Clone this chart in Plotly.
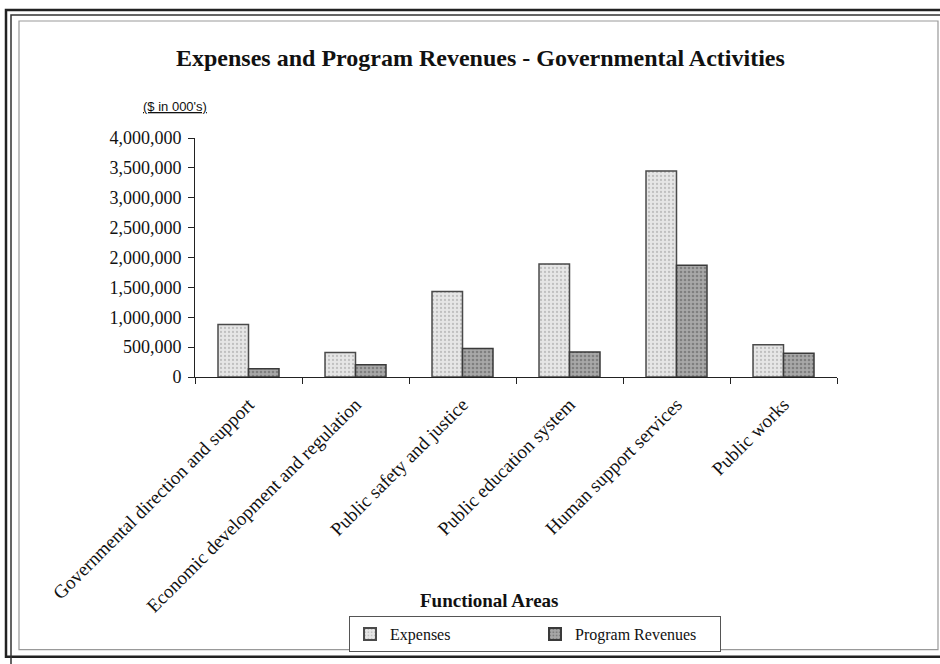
import plotly.graph_objects as go

categories = [
    "Governmental direction and support",
    "Economic development and regulation",
    "Public safety and justice",
    "Public education system",
    "Human support services",
    "Public works",
]
expenses = [877000, 409000, 1429000, 1893000, 3449000, 541000]
program_revenues = [137000, 204000, 475000, 419000, 1871000, 397000]
y_ticks = [0, 500000, 1000000, 1500000, 2000000, 2500000, 3000000, 3500000, 4000000]
y_tick_labels = [f"{v:,}" for v in y_ticks]

W, H = 940, 664
L, R, T, B = 195, 837, 138, 379

def px(x):
    return (x - L) / (R - L)

def py(y):
    return (B - y) / (B - T)

serif = "Liberation Serif, Times New Roman, serif"

fig = go.Figure()
fig.add_trace(go.Bar(
    x=categories, y=expenses, name="Expenses",
    marker=dict(color="#e4e4e4",
                line=dict(color="#4a4a4a", width=1.5),
                pattern=dict(shape=".", fgcolor="#9a9a9a", bgcolor="#e6e6e6", size=4, solidity=0.25)),
))
fig.add_trace(go.Bar(
    x=categories, y=program_revenues, name="Program Revenues",
    marker=dict(color="#9a9a9a",
                line=dict(color="#3a3a3a", width=1.5),
                pattern=dict(shape=".", fgcolor="#555555", bgcolor="#a8a8a8", size=4, solidity=0.35)),
))

shapes = [
    dict(type="rect", xref="paper", yref="paper", x0=px(6), x1=px(945), y0=py(661), y1=py(9),
         line=dict(color="#222", width=2.5)),
    dict(type="rect", xref="paper", yref="paper", x0=px(11), x1=px(945), y0=py(945), y1=py(14),
         line=dict(color="#333", width=1.5)),
    dict(type="rect", xref="paper", yref="paper", x0=px(19), x1=px(938), y0=py(654), y1=py(20),
         line=dict(color="#999", width=1.2)),
]

annotations = [
    dict(text="<b>Expenses and Program Revenues - Governmental Activities</b>",
         xref="paper", yref="paper", x=px(480), y=py(57), xanchor="center", yanchor="middle",
         showarrow=False, font=dict(family=serif, size=24, color="#111")),
    dict(text="<u>($ in 000's)</u>",
         xref="paper", yref="paper", x=px(175), y=py(106), xanchor="center", yanchor="middle",
         showarrow=False, font=dict(family="Liberation Sans, Arial, sans-serif", size=13, color="#111")),
    dict(text="<b>Functional Areas</b>",
         xref="paper", yref="paper", x=px(489), y=py(604), xanchor="center", yanchor="middle",
         showarrow=False, font=dict(family=serif, size=19, color="#111")),
]

fig.update_layout(
    width=W, height=H,
    margin=dict(l=L, r=W - R, t=T, b=H - B, pad=0),
    paper_bgcolor="white", plot_bgcolor="white",
    barmode="group", bargap=0.43, bargroupgap=0,
    showlegend=True,
    legend=dict(orientation="h", x=px(535), y=py(620), xanchor="center", yanchor="top",
                bordercolor="#555", borderwidth=1, bgcolor="white",
                font=dict(family=serif, size=16, color="#111"),
                entrywidth=140, itemsizing="constant"),
    shapes=shapes,
    annotations=annotations,
    font=dict(family=serif, color="#111"),
)
fig.update_yaxes(range=[0, 4000000], tickvals=y_ticks, ticktext=y_tick_labels,
                 showgrid=False, zeroline=False, showline=True, linecolor="#222", linewidth=1,
                 ticks="outside", ticklen=6, tickcolor="#222", ticklabelstandoff=3,
                 tickfont=dict(family=serif, size=18, color="#111"))
fig.update_xaxes(showgrid=False, showline=True, linecolor="#222", linewidth=1,
                 ticks="outside", ticklen=6, tickcolor="#222", tickson="boundaries",
                 tickangle=-45, ticklabelstandoff=8,
                 tickfont=dict(family=serif, size=19, color="#111"))

fig.write_html("out.html", config={"displayModeBar": False},
               post_script="document.body.style.margin='0';document.body.style.padding='0';")
